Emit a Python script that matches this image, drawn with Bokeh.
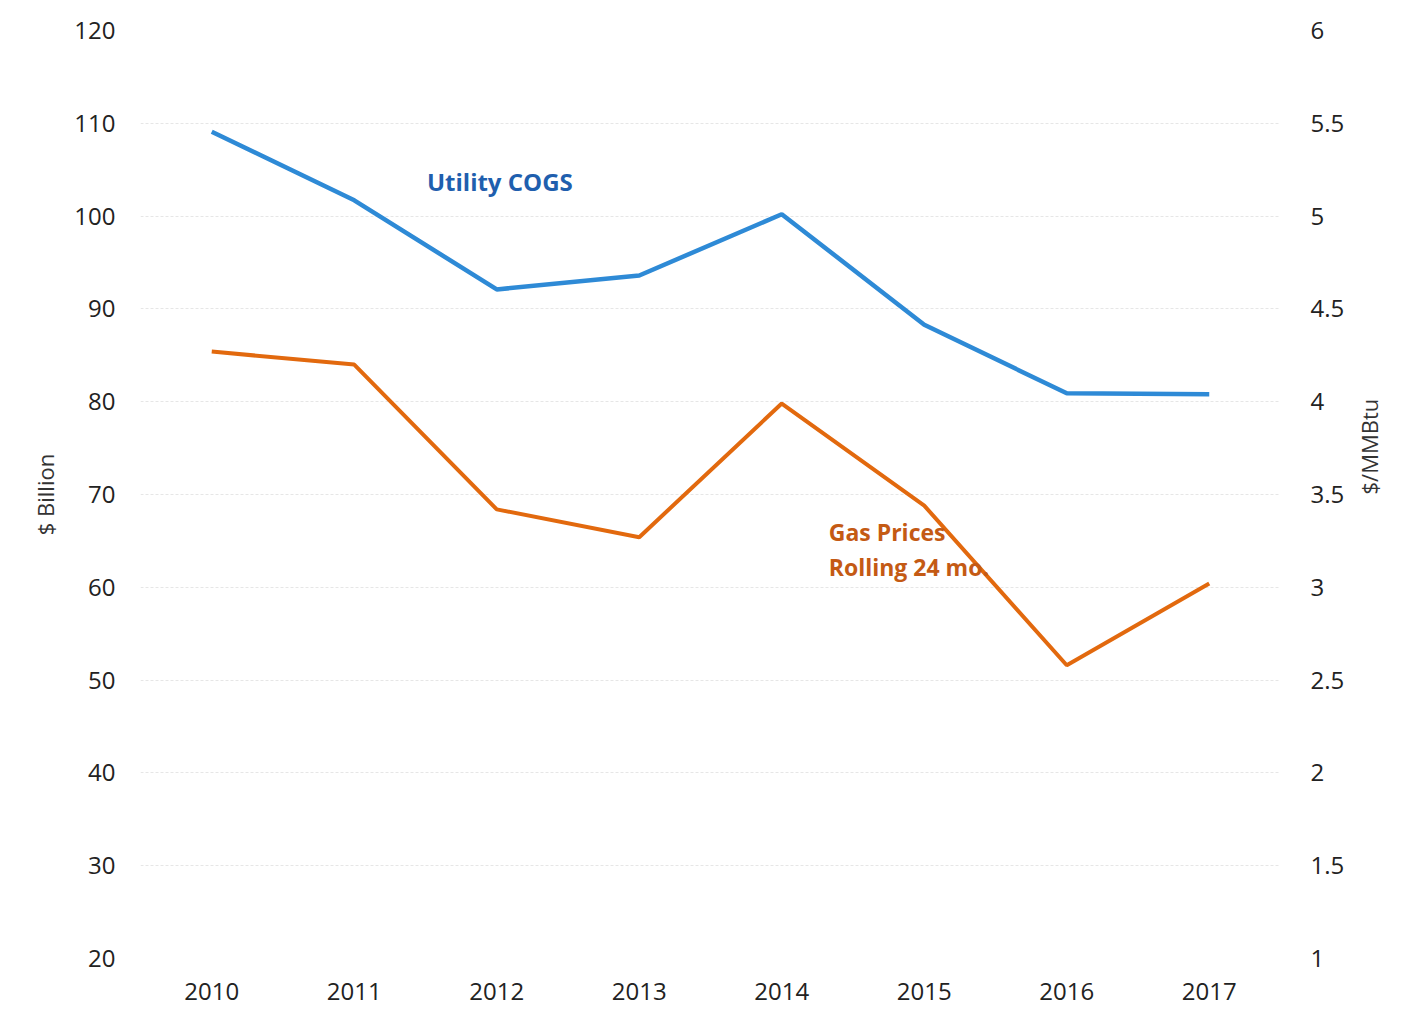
import math
from bokeh.plotting import figure
from bokeh.models import Range1d, LinearAxis, FixedTicker, Label, FactorRange
from bokeh.embed import file_html
from bokeh.resources import INLINE

years = ["2010", "2011", "2012", "2013", "2014", "2015", "2016", "2017"]
utility_cogs = [109.1, 101.7, 92.1, 93.6, 100.2, 88.3, 80.9, 80.8]
gas_prices = [4.27, 4.20, 3.42, 3.27, 3.99, 3.44, 2.58, 3.02]
left_ticks = [20, 30, 40, 50, 60, 70, 80, 90, 100, 110, 120]
right_ticks = [1, 1.5, 2, 2.5, 3, 3.5, 4, 4.5, 5, 5.5, 6]

FONT = "Open Sans"
BLUE = "#2E8AD6"
ORANGE = "#E2690E"

p = figure(x_range=FactorRange(*years), y_range=Range1d(20, 120),
           frame_width=1140, frame_height=928,
           min_border_left=140, min_border_right=118, min_border_top=30, min_border_bottom=53,
           output_backend="svg", toolbar_location=None)
p.extra_y_ranges = {"gas": Range1d(1, 6)}
p.outline_line_color = None
p.background_fill_color = "white"
p.border_fill_color = "white"

p.xgrid.grid_line_color = None
p.ygrid.grid_line_color = "#e6e6e6"
p.ygrid.grid_line_width = 1
p.ygrid.grid_line_dash = "3 2"
p.ygrid.ticker = FixedTicker(ticks=left_ticks)

# left axis
ax = p.yaxis[0]
ax.ticker = FixedTicker(ticks=left_ticks)
ax.axis_line_color = None
ax.major_tick_line_color = None
ax.minor_tick_line_color = None
ax.major_tick_out = 0
ax.major_label_standoff = 25
ax.major_label_text_font = FONT
ax.major_label_text_font_size = "24px"
ax.major_label_text_color = "#222222"
ax.axis_label = "$ Billion"
ax.axis_label_text_font = FONT
ax.axis_label_text_font_size = "22px"
ax.axis_label_text_font_style = "normal"
ax.axis_label_text_color = "#333333"
ax.axis_label_standoff = 11

# right axis
rax = LinearAxis(y_range_name="gas", ticker=FixedTicker(ticks=right_ticks))
rax.major_label_overrides = {t: ("%g" % t) for t in right_ticks}
rax.axis_line_color = None
rax.major_tick_line_color = None
rax.minor_tick_line_color = None
rax.major_tick_out = 0
rax.major_label_standoff = 30
rax.major_label_text_font = FONT
rax.major_label_text_font_size = "24px"
rax.major_label_text_color = "#222222"
rax.axis_label = "$/MMBtu"
rax.axis_label_text_font = FONT
rax.axis_label_text_font_size = "22px"
rax.axis_label_text_font_style = "normal"
rax.axis_label_text_color = "#333333"
rax.axis_label_standoff = 22
try:
    rax.axis_label_orientation = math.pi / 2
except Exception:
    pass
p.add_layout(rax, "right")

# x axis
xa = p.xaxis[0]
xa.axis_line_color = None
xa.major_tick_line_color = None
xa.major_tick_out = 0
xa.major_label_standoff = 24
xa.major_label_text_font = FONT
xa.major_label_text_font_size = "24px"
xa.major_label_text_color = "#222222"

p.line(years, utility_cogs, line_color=BLUE, line_width=4.5)
p.line(years, gas_prices, line_color=ORANGE, line_width=4, y_range_name="gas")

p.add_layout(Label(x=2.01, y=103.7, text="Utility COGS", text_font=FONT, text_font_size="24px",
                   text_font_style="bold", text_color="#1F5FAE", text_baseline="middle"))
p.add_layout(Label(x=4.83, y=66.0, text="Gas Prices", text_font=FONT, text_font_size="23px",
                   text_font_style="bold", text_color="#C45A14", text_baseline="middle"))
p.add_layout(Label(x=4.83, y=62.2, text="Rolling 24 mo.", text_font=FONT, text_font_size="23px",
                   text_font_style="bold", text_color="#C45A14", text_baseline="middle"))

open("out.html", "w").write(file_html(p, INLINE))
